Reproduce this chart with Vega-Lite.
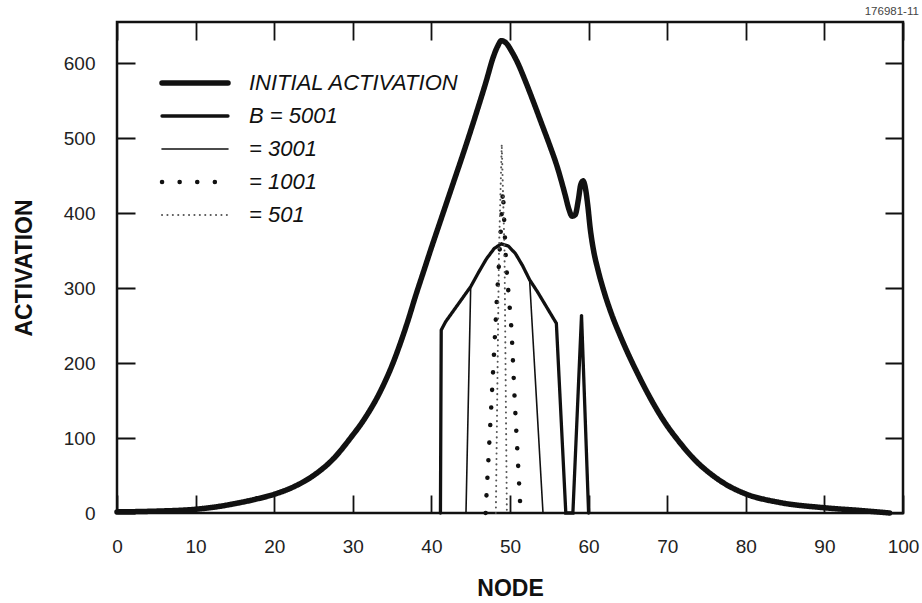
{
  "$schema": "https://vega.github.io/schema/vega-lite/v6.json",
  "width": 786,
  "height": 491,
  "autosize": {"type": "none"},
  "padding": {"left": 117, "top": 22, "right": 19, "bottom": 90},
  "background": "white",
  "title": {"text": "176981-11", "anchor": "end", "fontSize": 11.5, "fontWeight": "normal", "color": "#444", "font": "Liberation Sans", "offset": 5},
  "config": {
    "view": {"stroke": "#111", "strokeWidth": 2.5},
    "font": "Liberation Sans",
    "legend": {
      "orient": "none",
      "legendX": 42,
      "legendY": 50,
      "symbolType": "stroke",
      "symbolSize": 4356,
      "clipHeight": 22,
      "rowPadding": 11,
      "labelOffset": 18,
      "labelFont": "Liberation Sans",
      "labelFontSize": 22,
      "labelFontStyle": "italic",
      "labelColor": "#111",
      "labelLimit": 400,
      "padding": 0
    }
  },
  "data": {
    "values": [
      {"s": "INITIAL ACTIVATION", "x": 0, "y": 1.5},
      {"s": "INITIAL ACTIVATION", "x": 5, "y": 2.5},
      {"s": "INITIAL ACTIVATION", "x": 10, "y": 5},
      {"s": "INITIAL ACTIVATION", "x": 12.5, "y": 8},
      {"s": "INITIAL ACTIVATION", "x": 15, "y": 12.5},
      {"s": "INITIAL ACTIVATION", "x": 17.5, "y": 18},
      {"s": "INITIAL ACTIVATION", "x": 20, "y": 25},
      {"s": "INITIAL ACTIVATION", "x": 22.5, "y": 35},
      {"s": "INITIAL ACTIVATION", "x": 25, "y": 50},
      {"s": "INITIAL ACTIVATION", "x": 27.5, "y": 72},
      {"s": "INITIAL ACTIVATION", "x": 30, "y": 104},
      {"s": "INITIAL ACTIVATION", "x": 31, "y": 118},
      {"s": "INITIAL ACTIVATION", "x": 32, "y": 134},
      {"s": "INITIAL ACTIVATION", "x": 33, "y": 152},
      {"s": "INITIAL ACTIVATION", "x": 34, "y": 173},
      {"s": "INITIAL ACTIVATION", "x": 35, "y": 197},
      {"s": "INITIAL ACTIVATION", "x": 36, "y": 225},
      {"s": "INITIAL ACTIVATION", "x": 37, "y": 256},
      {"s": "INITIAL ACTIVATION", "x": 38, "y": 290},
      {"s": "INITIAL ACTIVATION", "x": 39, "y": 322},
      {"s": "INITIAL ACTIVATION", "x": 40, "y": 354},
      {"s": "INITIAL ACTIVATION", "x": 41, "y": 385},
      {"s": "INITIAL ACTIVATION", "x": 42, "y": 416},
      {"s": "INITIAL ACTIVATION", "x": 43, "y": 447},
      {"s": "INITIAL ACTIVATION", "x": 44, "y": 478},
      {"s": "INITIAL ACTIVATION", "x": 45, "y": 510},
      {"s": "INITIAL ACTIVATION", "x": 46, "y": 543},
      {"s": "INITIAL ACTIVATION", "x": 47, "y": 577},
      {"s": "INITIAL ACTIVATION", "x": 47.8, "y": 606},
      {"s": "INITIAL ACTIVATION", "x": 48.4, "y": 622},
      {"s": "INITIAL ACTIVATION", "x": 48.9, "y": 630},
      {"s": "INITIAL ACTIVATION", "x": 49.5, "y": 627},
      {"s": "INITIAL ACTIVATION", "x": 50.2, "y": 616},
      {"s": "INITIAL ACTIVATION", "x": 51, "y": 600},
      {"s": "INITIAL ACTIVATION", "x": 52, "y": 575},
      {"s": "INITIAL ACTIVATION", "x": 53, "y": 548},
      {"s": "INITIAL ACTIVATION", "x": 54, "y": 520},
      {"s": "INITIAL ACTIVATION", "x": 55, "y": 492},
      {"s": "INITIAL ACTIVATION", "x": 56, "y": 462},
      {"s": "INITIAL ACTIVATION", "x": 57, "y": 425},
      {"s": "INITIAL ACTIVATION", "x": 57.5, "y": 405},
      {"s": "INITIAL ACTIVATION", "x": 57.9, "y": 396},
      {"s": "INITIAL ACTIVATION", "x": 58.3, "y": 398},
      {"s": "INITIAL ACTIVATION", "x": 58.7, "y": 418},
      {"s": "INITIAL ACTIVATION", "x": 59.0, "y": 438},
      {"s": "INITIAL ACTIVATION", "x": 59.3, "y": 443},
      {"s": "INITIAL ACTIVATION", "x": 59.6, "y": 433},
      {"s": "INITIAL ACTIVATION", "x": 59.9, "y": 410},
      {"s": "INITIAL ACTIVATION", "x": 60.2, "y": 380},
      {"s": "INITIAL ACTIVATION", "x": 60.6, "y": 352},
      {"s": "INITIAL ACTIVATION", "x": 61.2, "y": 324},
      {"s": "INITIAL ACTIVATION", "x": 62, "y": 294},
      {"s": "INITIAL ACTIVATION", "x": 63, "y": 263},
      {"s": "INITIAL ACTIVATION", "x": 64, "y": 237},
      {"s": "INITIAL ACTIVATION", "x": 65, "y": 213},
      {"s": "INITIAL ACTIVATION", "x": 66, "y": 191},
      {"s": "INITIAL ACTIVATION", "x": 67.3, "y": 164},
      {"s": "INITIAL ACTIVATION", "x": 69.5, "y": 124},
      {"s": "INITIAL ACTIVATION", "x": 71.6, "y": 94},
      {"s": "INITIAL ACTIVATION", "x": 73.5, "y": 71},
      {"s": "INITIAL ACTIVATION", "x": 75.8, "y": 50},
      {"s": "INITIAL ACTIVATION", "x": 78, "y": 35},
      {"s": "INITIAL ACTIVATION", "x": 80.1, "y": 25},
      {"s": "INITIAL ACTIVATION", "x": 84.3, "y": 14},
      {"s": "INITIAL ACTIVATION", "x": 90, "y": 7},
      {"s": "INITIAL ACTIVATION", "x": 95, "y": 3},
      {"s": "INITIAL ACTIVATION", "x": 98.3, "y": 0},

      {"s": "B = 5001", "x": 41.15, "y": 0},
      {"s": "B = 5001", "x": 41.25, "y": 244},
      {"s": "B = 5001", "x": 41.8, "y": 255},
      {"s": "B = 5001", "x": 43.5, "y": 280},
      {"s": "B = 5001", "x": 45, "y": 302},
      {"s": "B = 5001", "x": 46, "y": 321},
      {"s": "B = 5001", "x": 47, "y": 339},
      {"s": "B = 5001", "x": 48, "y": 353},
      {"s": "B = 5001", "x": 48.9, "y": 359},
      {"s": "B = 5001", "x": 49.8, "y": 356},
      {"s": "B = 5001", "x": 50.7, "y": 346},
      {"s": "B = 5001", "x": 51.6, "y": 330},
      {"s": "B = 5001", "x": 52.5, "y": 311},
      {"s": "B = 5001", "x": 53.5, "y": 295},
      {"s": "B = 5001", "x": 55.9, "y": 253},
      {"s": "B = 5001", "x": 57.1, "y": 0},
      {"s": "B = 5001", "x": 58.0, "y": 0},
      {"s": "B = 5001", "x": 59.1, "y": 264},
      {"s": "B = 5001", "x": 60.0, "y": 0},

      {"s": "   = 3001", "x": 44.4, "y": 0},
      {"s": "   = 3001", "x": 45.0, "y": 302},
      {"s": "   = 3001", "x": 46, "y": 321},
      {"s": "   = 3001", "x": 47, "y": 339},
      {"s": "   = 3001", "x": 48, "y": 353},
      {"s": "   = 3001", "x": 48.9, "y": 359},
      {"s": "   = 3001", "x": 49.8, "y": 356},
      {"s": "   = 3001", "x": 50.7, "y": 346},
      {"s": "   = 3001", "x": 51.6, "y": 330},
      {"s": "   = 3001", "x": 52.5, "y": 310},
      {"s": "   = 3001", "x": 54.2, "y": 0},

      {"s": "   = 1001", "x": 46.9, "y": 0},
      {"s": "   = 1001", "x": 47.0, "y": 22},
      {"s": "   = 1001", "x": 47.6, "y": 139},
      {"s": "   = 1001", "x": 48.3, "y": 280},
      {"s": "   = 1001", "x": 48.6, "y": 333},
      {"s": "   = 1001", "x": 49.1, "y": 430},
      {"s": "   = 1001", "x": 49.5, "y": 333},
      {"s": "   = 1001", "x": 50.2, "y": 244},
      {"s": "   = 1001", "x": 50.6, "y": 150},
      {"s": "   = 1001", "x": 51.3, "y": 11},
      {"s": "   = 1001", "x": 51.35, "y": 0},

      {"s": "   = 501", "x": 48.2, "y": 0},
      {"s": "   = 501", "x": 48.6, "y": 350},
      {"s": "   = 501", "x": 48.95, "y": 492},
      {"s": "   = 501", "x": 49.3, "y": 350},
      {"s": "   = 501", "x": 49.6, "y": 0}
    ]
  },
  "encoding": {
    "x": {
      "field": "x", "type": "quantitative", "title": "NODE",
      "scale": {"domain": [0, 100], "nice": false, "zero": false},
      "axis": {"orient": "bottom", "values": [0, 10, 20, 30, 40, 50, 60, 70, 80, 90, 100], "ticks": false, "domain": false, "grid": true, "gridColor": "#111", "gridWidth": 1.8, "gridOpacity": 1, "gridDash": [18, 455, 18, 1000], "labelFont": "Liberation Sans", "labelFontSize": 19, "labelColor": "#222", "labelPadding": 24, "labelFlush": false, "titleFont": "Liberation Sans", "titleFontSize": 23, "titleFontWeight": "bold", "titleColor": "#111", "titlePadding": 21}
    },
    "y": {
      "field": "y", "type": "quantitative", "title": "ACTIVATION",
      "scale": {"domain": [0, 655], "nice": false, "zero": false},
      "axis": {"orient": "left", "values": [0, 100, 200, 300, 400, 500, 600], "ticks": false, "domain": false, "grid": true, "gridColor": "#111", "gridWidth": 1.8, "gridOpacity": 1, "gridDash": [18, 750, 18, 1000], "labelFont": "Liberation Sans", "labelFontSize": 19, "labelColor": "#222", "labelPadding": 22, "labelFlush": false, "titleFont": "Liberation Sans", "titleFontSize": 23, "titleFontWeight": "bold", "titleColor": "#111", "titlePadding": 27}
    },
    "color": {
      "field": "s", "type": "nominal", "title": null,
      "scale": {"domain": ["INITIAL ACTIVATION", "B = 5001", "   = 3001", "   = 1001", "   = 501"], "range": ["#111111", "#111111", "#111111", "#111111", "#555555"]},
      "legend": {"encode": {"symbols": {"update": {"strokeCap": {"value": "round"}}}}}
    },
    "strokeWidth": {
      "field": "s", "type": "ordinal", "title": null,
      "scale": {"type": "ordinal", "domain": ["INITIAL ACTIVATION", "B = 5001", "   = 3001", "   = 1001", "   = 501"], "range": [5.5, 3.3, 1.6, 4.5, 2]},
      "legend": {"encode": {"symbols": {"update": {"strokeCap": {"value": "round"}}}}}
    },
    "strokeDash": {
      "field": "s", "type": "nominal", "title": null,
      "scale": {"domain": ["INITIAL ACTIVATION", "B = 5001", "   = 3001", "   = 1001", "   = 501"], "range": [[1, 0], [1, 0], [1, 0], [0.1, 17.5], [0.1, 5.3]]},
      "legend": {"encode": {"symbols": {"update": {"strokeCap": {"value": "round"}}}}}
    }
  },
  "layer": [
    {
      "transform": [{"filter": "datum.s === 'INITIAL ACTIVATION'"}],
      "mark": {"type": "line", "strokeCap": "round", "strokeJoin": "round", "interpolate": "monotone"}
    },
    {
      "transform": [{"filter": "datum.s !== 'INITIAL ACTIVATION'"}],
      "mark": {"type": "line", "strokeCap": "round", "strokeJoin": "miter"}
    }
  ]
}
